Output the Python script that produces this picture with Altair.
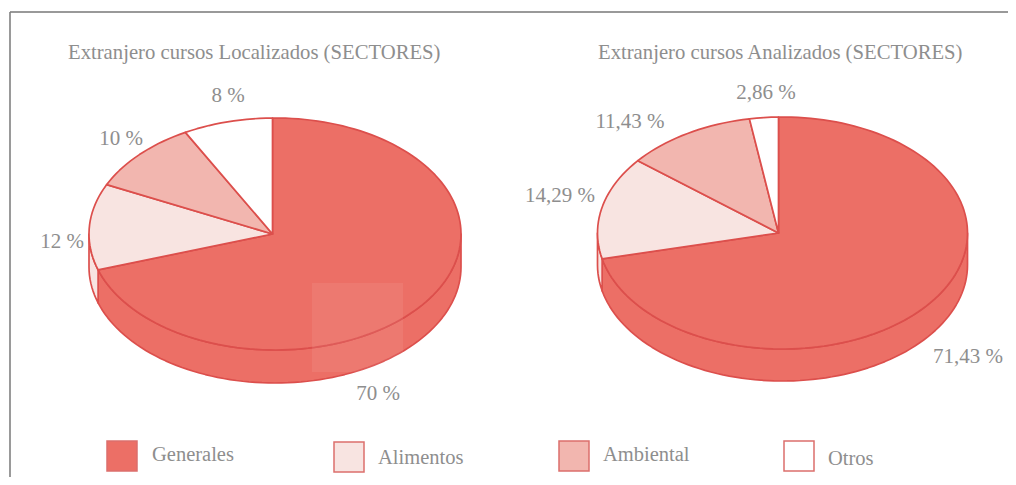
import math
import altair as alt
import pandas as pd

sectors = ["Generales", "Alimentos", "Ambiental", "Otros"]
colors = ["#ec6f66", "#f8e4e1", "#f2b6af", "#ffffff"]
left_title = "Extranjero cursos Localizados (SECTORES)"
right_title = "Extranjero cursos Analizados (SECTORES)"
left_values = [70, 12, 10, 8]
right_values = [71.43, 14.29, 11.43, 2.86]

M = 8  # page margin
LINE = "#dc4f4c"
TEXT = "#8e8e8e"
FONT = "Liberation Serif"


def pt(g, deg, dy=0):
    t = math.radians(deg)
    return [round(g["cx"] + g["rx"] * math.sin(t) - M, 2),
            round(g["cy"] - g["ry"] * math.cos(t) + dy - M, 2)]


def arc(a, b):
    n = max(2, int(abs(b - a) / 2) + 1)
    return [a + (b - a) * i / (n - 1) for i in range(n)]


def feature(ring, name):
    ring = ring + [ring[0]]
    return {"type": "Feature", "properties": {"sector": name},
            "geometry": {"type": "Polygon", "coordinates": [ring]}}


def pie(values, g):
    sides, tops = [], []
    total = sum(values)
    tilt = math.degrees(math.asin((g["ax"] - g["cx"]) / g["rx"]))
    a = 0.0
    for name, v in zip(sectors, values):
        b = a + 360.0 * v / total
        lo, hi = max(a, 90.0), min(b, 270.0)
        if lo < hi:
            angs = arc(lo, hi)
            sides.append(feature([pt(g, d) for d in angs] +
                                 [pt(g, d, g["depth"]) for d in reversed(angs)], name))
        # the 12 o'clock edge sits on the drawing's off-centre apex
        start = tilt if a == 0.0 else a
        end = 360.0 + tilt if abs(b - 360.0) < 1e-6 else b
        tops.append(feature([[g["ax"] - M, g["cy"] - M]] + [pt(g, d) for d in arc(start, end)], name))
        a = b
    return sides + tops


geo_l = dict(cx=275, ax=272.5, cy=234, rx=186, ry=116, depth=33)
geo_r = dict(cx=782.5, ax=778.5, cy=233, rx=185, ry=116, depth=32)
features = pie(left_values, geo_l) + pie(right_values, geo_r)

color = alt.Color("properties.sector:N",
                  scale=alt.Scale(domain=sectors, range=colors), legend=None)
pies = alt.Chart(alt.InlineData(values=features, format=alt.DataFormat(type="json"))).mark_geoshape(
    stroke=LINE, strokeWidth=1.7, strokeJoin="round"
).encode(color=color).project(type="identity", scale=1, translate=[0, 0])


def fmt(v):
    return f"{v:g} %".replace(".", ",")


X = alt.X("x:Q", scale=None, axis=None)
Y = alt.Y("y:Q", scale=None, axis=None)

label_pos_l = [(378, 394), (62, 242), (121, 139), (228, 96)]
label_pos_r = [(968, 357), (560, 196), (630, 122), (766, 93)]
labels = pd.DataFrame(
    [{"t": fmt(v), "x": p[0] - M, "y": p[1] - M} for v, p in zip(left_values, label_pos_l)] +
    [{"t": fmt(v), "x": p[0] - M, "y": p[1] - M} for v, p in zip(right_values, label_pos_r)])
label_layer = alt.Chart(labels).mark_text(
    font=FONT, fontSize=21, color=TEXT, align="center", baseline="middle"
).encode(x=X, y=Y, text="t:N")

titles = pd.DataFrame([{"t": left_title, "x": 68 - M, "y": 53 - M},
                       {"t": right_title, "x": 598 - M, "y": 53 - M}])
title_layer = alt.Chart(titles).mark_text(
    font=FONT, fontSize=20.7, color=TEXT, align="left", baseline="middle"
).encode(x=X, y=Y, text="t:N")

sq_x = [122, 349, 574, 799]
sq_y = [456, 457, 456, 456]
txt_x = [152, 378, 603, 828]
txt_y = [455, 458, 455, 459]
legend_df = pd.DataFrame({"s": sectors,
                          "x": [v - M for v in sq_x], "y": [v - M for v in sq_y],
                          "tx": [v - M for v in txt_x], "ty": [v - M for v in txt_y]})
legend_sq = alt.Chart(legend_df).mark_square(
    size=900, filled=True, stroke="#dc6f6c", strokeWidth=1.5, opacity=1
).encode(x=X, y=Y, color=alt.Color("s:N", scale=alt.Scale(domain=sectors, range=colors), legend=None))
legend_txt = alt.Chart(legend_df).mark_text(
    font=FONT, fontSize=20.5, color=TEXT, align="left", baseline="middle"
).encode(x=alt.X("tx:Q", scale=None, axis=None), y=alt.Y("ty:Q", scale=None, axis=None), text="s:N")

# scanned light patch on the left pie
patch = alt.Chart(pd.DataFrame({"a": [0]})).mark_rect(color="#ffffff", opacity=0.07).encode(
    x=alt.value(312 - M), x2=alt.value(403 - M), y=alt.value(283 - M), y2=alt.value(372 - M))

# frame
frame_top = alt.Chart(pd.DataFrame({"a": [0]})).mark_rule(color="#777777", strokeWidth=1.6).encode(
    x=alt.value(10 - M), x2=alt.value(1008), y=alt.value(12 - M))
frame_left = alt.Chart(pd.DataFrame({"a": [0]})).mark_rule(color="#808080", strokeWidth=1.6).encode(
    x=alt.value(10 - M), y=alt.value(12 - M), y2=alt.value(469))

chart = alt.layer(
    frame_top, frame_left, pies, patch, label_layer, title_layer, legend_sq, legend_txt
).resolve_scale(color="independent").properties(
    width=1000, height=469, padding=0, autosize=alt.AutoSizeParams(type="none"),
    background="#ffffff"
).configure_view(stroke=None)

chart.save("out.html", embed_options={"renderer": "svg", "actions": False})
